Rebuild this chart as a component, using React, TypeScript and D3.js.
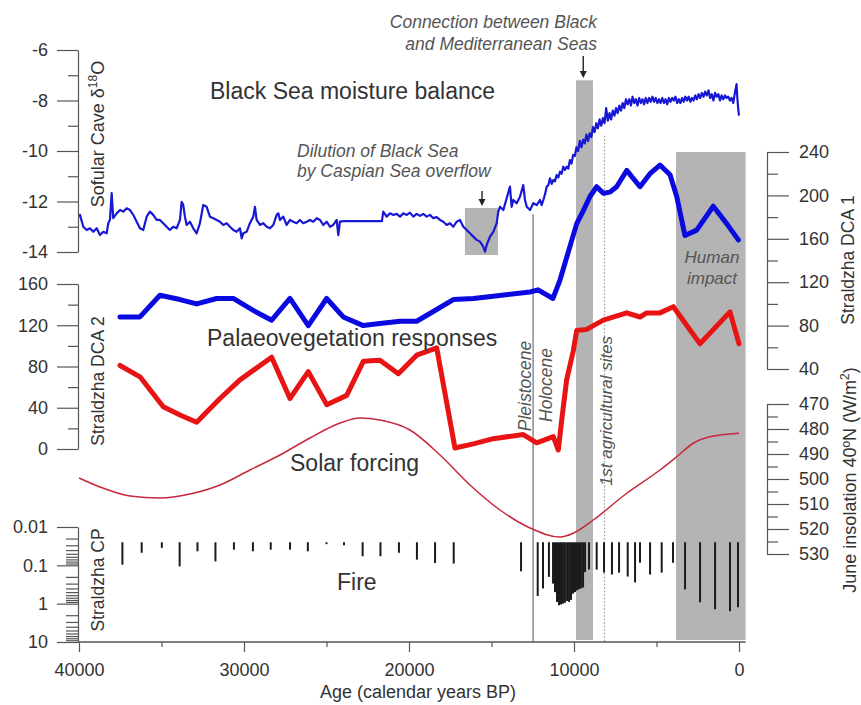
import React, { useRef, useEffect } from "react";
import * as d3 from "d3";

type Pt = [number, number];

// Sofular Cave speleothem d18O  [age BP, permil]
const sofularIso: Pt[] = [
  [40000, -12.6], [39940, -12.53], [39740, -13.0], [39535, -13.13], [39335, -13.06], [39135, -13.2],
  [38930, -13.06], [38730, -13.33], [38530, -13.2], [38325, -13.26], [38225, -12.86], [38125, -12.73],
  [38020, -11.67], [37925, -12.66], [37720, -12.47], [37515, -12.34], [37315, -12.4], [37110, -12.27],
  [36910, -12.34], [36710, -12.53], [36505, -12.8], [36305, -13.06], [36105, -13.13], [35900, -12.6],
  [35700, -12.4], [35500, -12.53], [35295, -12.73], [35095, -12.73], [34895, -12.86], [34690, -13.0],
  [34490, -13.13], [34290, -13.0], [34080, -13.06], [33880, -12.73], [33780, -12.01], [33680, -12.14],
  [33580, -12.6], [33475, -12.93], [33275, -12.8], [33075, -13.06], [32870, -13.26], [32670, -12.86],
  [32470, -12.14], [32265, -12.21], [32065, -12.6], [31860, -12.66], [31655, -12.73], [31455, -12.8],
  [31255, -12.93], [31050, -12.86], [30850, -13.0], [30650, -13.13], [30445, -13.2], [30245, -13.06],
  [30140, -13.46], [30045, -13.26], [29840, -13.2], [29640, -12.86], [29440, -12.6], [29335, -12.21],
  [29235, -12.73], [29030, -12.93], [28830, -12.86], [28625, -13.0], [28425, -13.06], [28225, -12.93],
  [28020, -12.53], [27920, -12.47], [27820, -12.73], [27620, -12.6], [27415, -12.93], [27215, -12.73],
  [27015, -12.8], [26810, -12.86], [26610, -12.73], [26410, -12.86], [26200, -12.8], [26000, -12.73],
  [25800, -12.8], [25595, -12.66], [25395, -12.73], [25195, -12.93], [24990, -12.8], [24790, -13.0],
  [24590, -12.93], [24385, -12.73], [24285, -13.33], [24185, -12.8], [23985, -12.78], [21640, -12.78],
  [21560, -12.4], [21355, -12.6], [21150, -12.47], [20950, -12.53], [20745, -12.49], [20545, -12.6],
  [20345, -12.47], [20140, -12.53], [19940, -12.44], [19740, -12.6], [19535, -12.49], [19335, -12.57],
  [19135, -12.49], [18930, -12.6], [18730, -12.53], [18530, -12.66], [18325, -12.62], [18120, -12.73],
  [17920, -12.8], [17715, -12.93], [17515, -12.86], [17315, -13.0], [17110, -12.8], [16910, -12.73],
  [16710, -13.0], [16505, -13.13], [16305, -13.26], [16105, -13.39], [15900, -13.52], [15700, -13.59],
  [15500, -13.79], [15395, -13.99], [15290, -13.72], [15090, -13.39], [14890, -13.2], [14685, -12.86],
  [14590, -12.4], [14485, -12.21], [14285, -12.34], [14080, -11.87], [13880, -11.41], [13780, -12.21],
  [13680, -11.94], [13475, -12.07], [13275, -11.81], [13075, -11.35], [12970, -11.94], [12865, -12.21],
  [12665, -12.34], [12465, -12.07], [12260, -12.14], [12060, -11.94], [11960, -12.14], [11860, -11.94],
  [11750, -11.7], [11655, -11.41], [11550, -11.35], [11455, -11.08], [11350, -11.3], [11255, -11.15],
  [11150, -11.2], [11050, -10.95], [10950, -11.05], [10850, -10.82], [10750, -10.9], [10650, -10.62],
  [10550, -10.75], [10445, -10.62], [10350, -10.7], [10245, -10.36], [10150, -10.5], [10050, -10.15],
  [9950, -10.2], [9850, -9.85], [9750, -10.0], [9650, -9.6], [9550, -9.85], [9450, -9.55],
  [9350, -9.7], [9250, -9.35], [9150, -9.6], [9050, -9.3], [8950, -9.45], [8850, -9.05],
  [8750, -9.25], [8650, -8.9], [8550, -9.1], [8450, -8.75], [8350, -9.0], [8250, -8.7],
  [8150, -8.9], [8050, -8.3], [7950, -8.8], [7850, -8.5], [7750, -8.75], [7650, -8.4],
  [7550, -8.6], [7450, -8.3], [7350, -8.5], [7250, -8.2], [7150, -8.4], [7050, -8.1],
  [6950, -8.3], [6850, -7.95], [6750, -8.15], [6650, -7.95], [6550, -8.2], [6450, -7.85],
  [6350, -8.1], [6250, -7.95], [6150, -8.2], [6050, -7.9], [5950, -8.1], [5850, -7.95],
  [5750, -8.15], [5650, -7.9], [5550, -8.1], [5450, -7.9], [5350, -8.05], [5250, -7.85],
  [5150, -8.05], [5050, -7.9], [4950, -8.1], [4850, -7.95], [4750, -8.1], [4650, -7.9],
  [4550, -8.1], [4450, -7.95], [4350, -8.15], [4250, -7.9], [4150, -8.05], [4050, -7.9],
  [3950, -8.0], [3850, -7.85], [3750, -8.1], [3650, -7.95], [3550, -8.1], [3450, -7.9],
  [3350, -8.05], [3250, -7.85], [3150, -8.0], [3050, -7.85], [2950, -8.05], [2850, -7.9],
  [2750, -8.0], [2650, -7.8], [2550, -7.95], [2450, -7.75], [2350, -7.9], [2250, -7.7],
  [2150, -7.85], [2050, -7.65], [1950, -7.8], [1850, -7.6], [1750, -7.9], [1650, -7.75],
  [1550, -8.0], [1450, -7.7], [1350, -7.85], [1250, -7.75], [1150, -8.0], [1050, -7.8],
  [950, -7.95], [850, -7.8], [750, -7.9], [650, -7.85], [550, -8.0], [450, -7.9],
  [350, -8.1], [250, -7.7], [150, -7.35], [100, -7.9], [50, -8.3], [0, -8.6],
];

// Straldzha DCA axis 1 scores
const dca1: Pt[] = [
  [37515, 88], [36305, 88], [35095, 108], [33880, 104], [32870, 100], [31655, 105], [30650, 105],
  [29440, 94], [28325, 85], [27215, 105], [26105, 80], [24990, 105], [23985, 88], [22770, 80],
  [21760, 82], [20545, 84], [19535, 84], [18530, 93], [17315, 104], [16100, 105], [14890, 107],
  [12665, 111], [12180, 113], [11275, 105], [10850, 122], [10245, 153], [9835, 174], [9435, 186],
  [9030, 199], [8625, 208], [8225, 202], [7820, 203], [7415, 208], [6805, 223], [6000, 208],
  [5395, 220], [4790, 228], [4180, 219], [3775, 199], [3275, 163], [2565, 168], [1560, 190],
  [745, 174], [40, 159],
];

// Straldzha DCA axis 2 scores
const dca2: Pt[] = [
  [37515, 81], [36305, 70], [34895, 41], [33880, 33], [32870, 26], [31455, 49], [30245, 67],
  [28325, 89], [27215, 49], [26105, 75], [24990, 43], [23775, 52], [22770, 85], [21760, 86],
  [20645, 73], [19535, 91], [18320, 98], [17215, 1], [16100, 5], [14890, 10], [13075, 14],
  [12260, 6], [11255, 12], [10950, -1], [10745, 28], [10445, 67], [10045, 95], [9835, 115],
  [9230, 116], [8225, 125], [6805, 132], [6000, 128], [5595, 132], [4790, 132], [3980, 138],
  [2365, 102], [545, 133], [0, 102],
];

// June insolation at 40N (W/m2)
const insolation: Pt[] = [
  [40000, 499.6], [38730, 503.2], [36910, 506.8], [35095, 507.6], [33275, 506], [31455, 502.4],
  [29640, 496.4], [27820, 490.4], [26000, 483.6], [24180, 477.6], [22970, 475.6], [21760, 476.4],
  [19940, 480.4], [18120, 490.4], [16305, 502.4], [14485, 512.4], [12665, 519.6], [10850, 523.2],
  [10045, 521.7], [8830, 516.4], [6805, 505.7], [4790, 496.4], [3775, 491.1], [2770, 485.7],
  [1760, 483.1], [0, 481.7],
];

// Straldzha charcoal CP
const charcoal: Pt[] = [
  [37370, 0.096], [36200, 0.047], [34980, 0.035], [33900, 0.106], [32820, 0.043], [31730, 0.079],
  [30610, 0.039], [29460, 0.043], [28380, 0.039], [27210, 0.039], [26130, 0.043], [25000, 0.028],
  [23940, 0.03], [22810, 0.058], [21730, 0.058], [20610, 0.047], [19520, 0.071], [18420, 0.087],
  [17290, 0.09], [13210, 0.143], [12200, 0.63], [11880, 0.4], [11520, 0.2], [11270, 0.3],
  [11150, 0.5], [11030, 0.9], [10910, 1.1], [10790, 1.05], [10670, 1.0], [10550, 0.95],
  [10420, 0.85], [10300, 0.9], [10180, 0.8], [10060, 0.55], [9940, 0.5], [9820, 0.45],
  [9700, 0.42], [9580, 0.4], [9450, 0.38], [9330, 0.15], [9090, 0.129], [8625, 0.129],
  [8180, 0.155], [7700, 0.174], [7270, 0.155], [6745, 0.196], [6300, 0.279], [6000, 0.085],
  [5390, 0.174], [4685, 0.155], [4000, 0.085], [3270, 0.425], [2360, 0.92], [1450, 1.4],
  [545, 1.57], [60, 1.24],
];
const cpBase = 0.025;

const ageTicks = [40000, 30000, 20000, 10000, 0];
const ageMinor = [35000, 25000, 15000, 5000];
const isoTicks = [-6, -8, -10, -12, -14];
const isoMinor = [-7, -9, -11, -13];
const dca2Ticks = [0, 40, 80, 120, 160];
const dca2Minor = [20, 60, 100, 140];
const dca1Ticks = [40, 80, 120, 160, 200, 240];
const dca1Minor = [60, 100, 140, 180, 220];
const insTicks = [470, 480, 490, 500, 510, 520, 530];
const insMinor = [475, 485, 495, 505, 515, 525];
const cpTicks = [0.01, 0.1, 1, 10];
const cpMinor = [
  0.02, 0.03, 0.04, 0.05, 0.06, 0.07, 0.08, 0.09,
  0.2, 0.3, 0.4, 0.5, 0.6, 0.7, 0.8, 0.9,
  2, 3, 4, 5, 6, 7, 8, 9,
];

// periods / events (ages BP)
const dilution = [16610, 14610];
const dilutionIso = [-12.26, -14.12];
const connection = [9880, 8850];
const connectionTopIso = -7.2;
const humanImpact = [3820, -400];
const holoceneStart = 12480;
const firstFarming = 8150;

const FONT = "'Liberation Sans', Arial, Helvetica, sans-serif";

export default function App() {
  const svgRef = useRef<SVGSVGElement>(null);

  useEffect(() => {
    if (!svgRef.current) return;
    const svg = d3.select(svgRef.current);
    svg.selectAll("*").remove();

    const x = d3.scaleLinear().domain([40000, 0]).range([79, 739]);
    const yIso = d3.scaleLinear().domain([-14, -6]).range([252, 50]);
    const yDca2 = d3.scaleLinear().domain([0, 160]).range([449, 284]);
    const yDca1 = d3.scaleLinear().domain([40, 240]).range([369, 152]);
    const yIns = d3.scaleLinear().domain([470, 530]).range([404, 554]);
    const yCp = d3.scaleLog().domain([0.01, 10]).range([527, 642]);
    const baseY = 642;

    // grey shaded periods
    const bands = svg.append("g").attr("fill", "#b4b4b4");
    bands
      .append("rect")
      .attr("x", x(dilution[0]))
      .attr("width", x(dilution[1]) - x(dilution[0]))
      .attr("y", yIso(dilutionIso[0]))
      .attr("height", yIso(dilutionIso[1]) - yIso(dilutionIso[0]));
    bands
      .append("rect")
      .attr("x", x(connection[0]))
      .attr("width", x(connection[1]) - x(connection[0]))
      .attr("y", yIso(connectionTopIso))
      .attr("height", baseY - 2 - yIso(connectionTopIso));
    bands
      .append("rect")
      .attr("x", x(humanImpact[0]))
      .attr("width", x(humanImpact[1]) - x(humanImpact[0]))
      .attr("y", yDca1(240))
      .attr("height", baseY - 2 - yDca1(240));

    // Pleistocene / Holocene boundary and first farming
    svg
      .append("line")
      .attr("x1", x(holoceneStart))
      .attr("x2", x(holoceneStart))
      .attr("y1", yIso(-12.5))
      .attr("y2", baseY)
      .attr("stroke", "#555")
      .attr("stroke-width", 1);
    svg
      .append("line")
      .attr("x1", x(firstFarming))
      .attr("x2", x(firstFarming))
      .attr("y1", yIso(-9.4))
      .attr("y2", baseY)
      .attr("stroke", "#999")
      .attr("stroke-width", 1.2)
      .attr("stroke-dasharray", "1.5,2");

    const line = (ys: any, curve: any = d3.curveLinear) =>
      d3
        .line<Pt>()
        .x((d) => x(d[0]))
        .y((d) => ys(d[1]))
        .curve(curve);

    // insolation
    svg
      .append("path")
      .datum(insolation)
      .attr("d", line(yIns, d3.curveMonotoneX))
      .attr("fill", "none")
      .attr("stroke", "#c8283c")
      .attr("stroke-width", 1.5);

    // charcoal bars
    svg
      .append("g")
      .selectAll("line")
      .data(charcoal)
      .join("line")
      .attr("x1", (d) => x(d[0]))
      .attr("x2", (d) => x(d[0]))
      .attr("y1", yCp(cpBase))
      .attr("y2", (d) => yCp(d[1]))
      .attr("stroke", "#1a1a1a")
      .attr("stroke-width", 2);

    // d18O
    svg
      .append("path")
      .datum(sofularIso)
      .attr("d", line(yIso))
      .attr("fill", "none")
      .attr("stroke", "#1818d4")
      .attr("stroke-width", 2.2)
      .attr("stroke-linejoin", "round");

    // DCA curves
    svg
      .append("path")
      .datum(dca1)
      .attr("d", line(yDca1))
      .attr("fill", "none")
      .attr("stroke", "#0a0ae0")
      .attr("stroke-width", 5)
      .attr("stroke-linejoin", "round")
      .attr("stroke-linecap", "round");
    svg
      .append("path")
      .datum(dca2)
      .attr("d", line(yDca2))
      .attr("fill", "none")
      .attr("stroke", "#e81414")
      .attr("stroke-width", 5)
      .attr("stroke-linejoin", "round")
      .attr("stroke-linecap", "round");

    // axes
    const styleAxis = (g: any) => {
      g.attr("font-family", FONT).attr("font-size", 18);
      g.selectAll(".domain").attr("stroke", "#555").attr("stroke-width", 1.2);
      g.selectAll(".tick line").attr("stroke", "#555").attr("stroke-width", 1.2);
      g.selectAll("text").attr("fill", "#333");
    };
    const fmt = (d: any) => String(d);

    const leftAxis = (scale: any, major: number[], minor: number[], minorLen = 10) => {
      const g = svg.append("g").attr("transform", "translate(78,0)");
      g.call(
        d3.axisLeft(scale).tickValues(major).tickSize(21).tickPadding(9).tickSizeOuter(0).tickFormat(fmt)
      );
      const m = svg.append("g").attr("transform", "translate(78,0)");
      m.call(d3.axisLeft(scale).tickValues(minor).tickSize(minorLen).tickSizeOuter(0).tickFormat(() => ""));
      m.select(".domain").remove();
      styleAxis(g);
      styleAxis(m);
    };
    const rightAxis = (scale: any, major: number[], minor: number[]) => {
      const g = svg.append("g").attr("transform", "translate(767,0)");
      g.call(
        d3.axisRight(scale).tickValues(major).tickSize(22).tickPadding(10).tickSizeOuter(0).tickFormat(fmt)
      );
      const m = svg.append("g").attr("transform", "translate(767,0)");
      m.call(d3.axisRight(scale).tickValues(minor).tickSize(11).tickSizeOuter(0).tickFormat(() => ""));
      m.select(".domain").remove();
      styleAxis(g);
      styleAxis(m);
    };

    leftAxis(yIso, isoTicks, isoMinor);
    leftAxis(yDca2, dca2Ticks, dca2Minor);
    leftAxis(yCp, cpTicks, cpMinor, 12);
    rightAxis(yDca1, dca1Ticks, dca1Minor);
    rightAxis(yIns, insTicks, insMinor);

    const gx = svg.append("g").attr("transform", `translate(0,${baseY})`);
    gx.call(d3.axisBottom(x).tickValues(ageTicks).tickSize(10).tickPadding(11).tickSizeOuter(0).tickFormat(fmt));
    gx.select(".domain").remove();
    const gxm = svg.append("g").attr("transform", `translate(0,${baseY})`);
    gxm.call(d3.axisBottom(x).tickValues(ageMinor).tickSize(5).tickSizeOuter(0).tickFormat(() => ""));
    gxm.select(".domain").remove();
    styleAxis(gx);
    styleAxis(gxm);
    svg
      .append("line")
      .attr("x1", 78)
      .attr("x2", x(humanImpact[1]))
      .attr("y1", baseY)
      .attr("y2", baseY)
      .attr("stroke", "#555")
      .attr("stroke-width", 1.5);

    // arrows
    const arrow = (age: number, v1: number, v2: number) => {
      const ax = x(age);
      const y1 = yIso(v1);
      const y2 = yIso(v2);
      svg
        .append("line")
        .attr("x1", ax)
        .attr("x2", ax)
        .attr("y1", y1)
        .attr("y2", y2 - 5)
        .attr("stroke", "#222")
        .attr("stroke-width", 1.4);
      svg
        .append("path")
        .attr("d", `M${ax - 3.5},${y2 - 7}L${ax + 3.5},${y2 - 7}L${ax},${y2}Z`)
        .attr("fill", "#222");
    };
    arrow(9440, -6.24, -7.11);
    arrow(15575, -11.58, -12.18);

    // text
    const text = (
      tx: number,
      ty: number,
      str: string,
      size: number,
      opts: { italic?: boolean; anchor?: string; fill?: string; rotate?: boolean } = {}
    ) =>
      svg
        .append("text")
        .attr("transform", `translate(${tx},${ty})${opts.rotate ? " rotate(-90)" : ""}`)
        .attr("text-anchor", opts.anchor || "start")
        .attr("font-family", FONT)
        .attr("font-size", size)
        .attr("font-style", opts.italic ? "italic" : "normal")
        .attr("fill", opts.fill || "#333")
        .text(str);

    text(210, 99, "Black Sea moisture balance", 23);
    text(207, 346, "Palaeovegetation responses", 23);
    text(290, 471, "Solar forcing", 23);
    text(337, 590, "Fire", 23);

    const note = "#555";
    text(597, 28, "Connection between Black", 17.5, { italic: true, anchor: "end", fill: note });
    text(597, 50, "and Mediterranean Seas", 17.5, { italic: true, anchor: "end", fill: note });
    text(297, 157, "Dilution of Black Sea", 17.5, { italic: true, fill: note });
    text(297, 177, "by Caspian Sea overflow", 17.5, { italic: true, fill: note });
    text(712, 263, "Human", 17, { italic: true, anchor: "middle", fill: note });
    text(712, 284, "impact", 17, { italic: true, anchor: "middle", fill: note });
    text(531, 386, "Pleistocene", 17.5, { italic: true, anchor: "middle", fill: note, rotate: true });
    text(552, 385, "Holocene", 17.5, { italic: true, anchor: "middle", fill: note, rotate: true });
    text(612, 411, "1st agricultural sites", 17, { italic: true, anchor: "middle", fill: note, rotate: true });

    const iso = text(104, 134, "", 18, { anchor: "middle", rotate: true });
    iso.append("tspan").text("Sofular Cave δ");
    iso.append("tspan").attr("dy", -7).attr("font-size", 12).text("18");
    iso.append("tspan").attr("dy", 7).text("O");
    text(104, 381, "Straldzha DCA 2", 17.5, { anchor: "middle", rotate: true });
    text(104, 580, "Straldzha CP", 17.5, { anchor: "middle", rotate: true });
    text(854, 260, "Straldzha DCA 1", 17.5, { anchor: "middle", rotate: true });
    const ins = text(856, 480, "", 18, { anchor: "middle", rotate: true });
    ins.append("tspan").text("June insolation 40ºN (W/m");
    ins.append("tspan").attr("dy", -7).attr("font-size", 12).text("2");
    ins.append("tspan").attr("dy", 7).text(")");

    text(418, 698, "Age (calendar years BP)", 18, { anchor: "middle" });
  }, []);

  return (
    <>
      <style>{"body{margin:0;background:#fff}"}</style>
      <svg ref={svgRef} width={861} height={705} style={{ display: "block", background: "#fff" }} />
    </>
  );
}
